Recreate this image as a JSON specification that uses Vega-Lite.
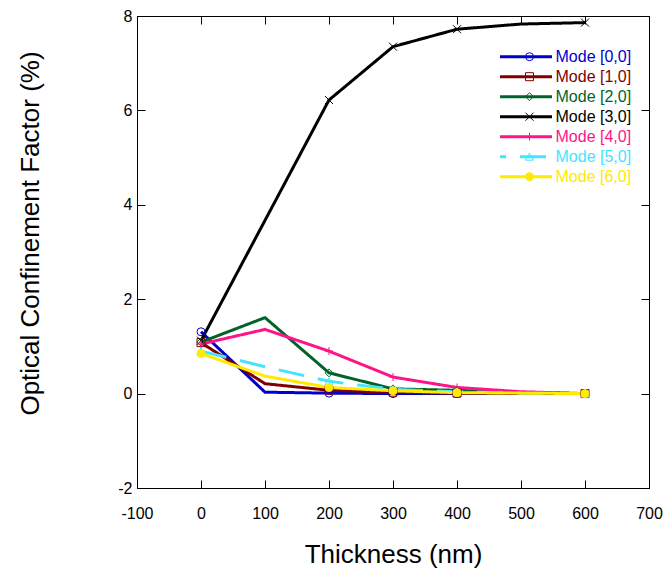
{
  "$schema": "https://vega.github.io/schema/vega-lite/v6.json",
  "width": 512,
  "height": 472,
  "autosize": {"type": "none"},
  "padding": {"left": 137, "top": 16, "right": 14, "bottom": 81},
  "background": "white",
  "config": {
    "view": {"stroke": "black", "strokeWidth": 1},
    "font": "Liberation Sans",
    "axis": {
      "grid": false,
      "domainColor": "black",
      "tickColor": "black",
      "tickSize": -8,
      "labelFontSize": 16,
      "labelColor": "black",
      "labelFont": "Liberation Sans",
      "titleFontSize": 26,
      "titleFontWeight": "normal",
      "titleColor": "black",
      "titleFont": "Liberation Sans"
    }
  },
  "data": {
    "values": [
      {"mode": "Mode [0,0]", "t": 0, "v": 1.31},
      {"mode": "Mode [0,0]", "t": 100, "v": 0.03},
      {"mode": "Mode [0,0]", "t": 200, "v": 0.01},
      {"mode": "Mode [0,0]", "t": 300, "v": 0.0},
      {"mode": "Mode [0,0]", "t": 400, "v": 0.0},
      {"mode": "Mode [0,0]", "t": 500, "v": 0.0},
      {"mode": "Mode [0,0]", "t": 600, "v": 0.0},
      {"mode": "Mode [1,0]", "t": 0, "v": 1.08},
      {"mode": "Mode [1,0]", "t": 100, "v": 0.21},
      {"mode": "Mode [1,0]", "t": 200, "v": 0.07},
      {"mode": "Mode [1,0]", "t": 300, "v": 0.03},
      {"mode": "Mode [1,0]", "t": 400, "v": 0.01},
      {"mode": "Mode [1,0]", "t": 500, "v": 0.0},
      {"mode": "Mode [1,0]", "t": 600, "v": 0.0},
      {"mode": "Mode [2,0]", "t": 0, "v": 1.09},
      {"mode": "Mode [2,0]", "t": 100, "v": 1.61},
      {"mode": "Mode [2,0]", "t": 200, "v": 0.44},
      {"mode": "Mode [2,0]", "t": 300, "v": 0.1},
      {"mode": "Mode [2,0]", "t": 400, "v": 0.07},
      {"mode": "Mode [2,0]", "t": 500, "v": 0.02},
      {"mode": "Mode [2,0]", "t": 600, "v": 0.0},
      {"mode": "Mode [3,0]", "t": 0, "v": 1.12},
      {"mode": "Mode [3,0]", "t": 100, "v": 3.67},
      {"mode": "Mode [3,0]", "t": 200, "v": 6.22},
      {"mode": "Mode [3,0]", "t": 300, "v": 7.35},
      {"mode": "Mode [3,0]", "t": 400, "v": 7.72},
      {"mode": "Mode [3,0]", "t": 500, "v": 7.83},
      {"mode": "Mode [3,0]", "t": 600, "v": 7.86},
      {"mode": "Mode [4,0]", "t": 0, "v": 1.05},
      {"mode": "Mode [4,0]", "t": 100, "v": 1.36},
      {"mode": "Mode [4,0]", "t": 200, "v": 0.9},
      {"mode": "Mode [4,0]", "t": 300, "v": 0.35},
      {"mode": "Mode [4,0]", "t": 400, "v": 0.13},
      {"mode": "Mode [4,0]", "t": 500, "v": 0.04},
      {"mode": "Mode [4,0]", "t": 600, "v": 0.0},
      {"mode": "Mode [5,0]", "t": 0, "v": 0.9},
      {"mode": "Mode [5,0]", "t": 100, "v": 0.57},
      {"mode": "Mode [5,0]", "t": 200, "v": 0.26},
      {"mode": "Mode [5,0]", "t": 300, "v": 0.09},
      {"mode": "Mode [5,0]", "t": 400, "v": 0.04},
      {"mode": "Mode [5,0]", "t": 500, "v": 0.01},
      {"mode": "Mode [5,0]", "t": 600, "v": 0.0},
      {"mode": "Mode [6,0]", "t": 0, "v": 0.85},
      {"mode": "Mode [6,0]", "t": 100, "v": 0.37},
      {"mode": "Mode [6,0]", "t": 200, "v": 0.13},
      {"mode": "Mode [6,0]", "t": 300, "v": 0.06},
      {"mode": "Mode [6,0]", "t": 400, "v": 0.02},
      {"mode": "Mode [6,0]", "t": 500, "v": 0.01},
      {"mode": "Mode [6,0]", "t": 600, "v": 0.0}
    ]
  },
  "layer": [
    {
      "mark": {"type": "line", "strokeWidth": 3},
      "encoding": {
        "x": {
          "field": "t", "type": "quantitative",
          "scale": {"domain": [-100, 700], "nice": false, "zero": false},
          "axis": {
            "orient": "bottom",
            "values": [-100, 0, 100, 200, 300, 400, 500, 600, 700],
            "labelExpr": "'' + datum.value",
            "labelBaseline": "alphabetic",
            "labelPadding": 38,
            "labelFlush": false,
            "labelOverlap": false,
            "title": "Thickness (nm)",
            "titleBaseline": "alphabetic",
            "titleX": 256,
            "titleY": 74
          }
        },
        "y": {
          "field": "v", "type": "quantitative",
          "scale": {"domain": [-2, 8], "nice": false, "zero": false},
          "axis": {
            "orient": "left",
            "values": [-2, 0, 2, 4, 6, 8],
            "labelExpr": "'' + datum.value",
            "labelPadding": 13,
            "labelFlush": false,
            "labelOverlap": false,
            "title": "Optical Confinement Factor (%)",
            "titleAngle": -90,
            "titleBaseline": "alphabetic",
            "titleAlign": "center",
            "titleX": -99,
            "titleY": 217
          }
        },
        "color": {
          "field": "mode", "type": "nominal",
          "scale": {"range": ["#0000CC", "#800000", "#00642A", "#000000", "#FF1488", "#44E4FF", "#FFEA00"]},
          "legend": {
            "orient": "none", "legendX": 361.5, "legendY": 31.7, "title": null,
            "symbolType": "stroke", "symbolSize": 2704, "symbolStrokeWidth": 3, "symbolDashOffset": 20,
            "clipHeight": 18, "rowPadding": 2, "padding": 0,
            "labelFontSize": 16, "labelFont": "Liberation Sans", "labelOffset": 2, "labelLimit": 0,
            "labelColor": {"expr": "scale('color', datum.value)"}
          }
        },
        "strokeDash": {
          "field": "mode", "type": "nominal",
          "scale": {"range": [[1, 0], [1, 0], [1, 0], [1, 0], [1, 0], [26, 14], [1, 0]]},
          "legend": {
            "orient": "none", "legendX": 361.5, "legendY": 31.7, "title": null,
            "symbolType": "stroke", "symbolSize": 2704, "symbolStrokeWidth": 3, "symbolDashOffset": 20,
            "clipHeight": 18, "rowPadding": 2, "padding": 0,
            "labelFontSize": 16, "labelFont": "Liberation Sans", "labelOffset": 2, "labelLimit": 0,
            "labelColor": {"expr": "scale('color', datum.value)"}
          }
        }
      }
    },
    {
      "transform": [{"filter": {"field": "t", "oneOf": [0, 200, 300, 400, 600]}}],
      "mark": {"type": "point", "filled": true, "strokeWidth": 1, "opacity": 1},
      "encoding": {
        "x": {
          "field": "t", "type": "quantitative",
          "axis": {"orient": "top", "values": [-100, 0, 100, 200, 300, 400, 500, 600, 700], "labels": false, "title": null, "domain": false}
        },
        "y": {
          "field": "v", "type": "quantitative",
          "axis": {"orient": "right", "values": [-2, 0, 2, 4, 6, 8], "labels": false, "title": null, "domain": false}
        },
        "stroke": {
          "field": "mode", "type": "nominal",
          "scale": {"domain": ["Mode [0,0]", "Mode [1,0]", "Mode [2,0]", "Mode [3,0]", "Mode [4,0]", "Mode [5,0]", "Mode [6,0]"], "range": ["#0000CC", "#800000", "#00642A", "#000000", "#FF1488", "#44E4FF", "#FFEA00"]},
          "legend": null
        },
        "fill": {
          "field": "mode", "type": "nominal",
          "scale": {"domain": ["Mode [0,0]", "Mode [1,0]", "Mode [2,0]", "Mode [3,0]", "Mode [4,0]", "Mode [5,0]", "Mode [6,0]"], "range": ["transparent", "transparent", "transparent", "transparent", "transparent", "transparent", "#FFEA00"]},
          "legend": null
        },
        "size": {
          "field": "mode", "type": "nominal",
          "scale": {"domain": ["Mode [0,0]", "Mode [1,0]", "Mode [2,0]", "Mode [3,0]", "Mode [4,0]", "Mode [5,0]", "Mode [6,0]"], "range": [64, 64, 40, 70, 70, 64, 100]},
          "legend": null
        },
        "shape": {
          "field": "mode", "type": "nominal",
          "scale": {
            "range": ["circle", "square", "diamond", "M-1,-1L1,1M-1,1L1,-1", "M0,-1V1M-1,0H1", "triangle-up", "circle"]
          },
          "legend": {
            "orient": "none", "legendX": 384.5, "legendY": 31.7, "title": null,
            "symbolSize": 64, "symbolStrokeWidth": 1,
            "clipHeight": 18, "rowPadding": 2, "padding": 0,
            "labelExpr": "''", "labelFontSize": 16, "labelOffset": 2, "labelLimit": 0,
            "symbolStrokeColor": {"expr": "scale('color', datum.value)"},
            "symbolFillColor": {"expr": "datum.value === 'Mode [6,0]' ? '#FFEA00' : 'transparent'"}
          }
        }
      }
    }
  ],
  "resolve": {"axis": {"x": "independent", "y": "independent"}}
}
